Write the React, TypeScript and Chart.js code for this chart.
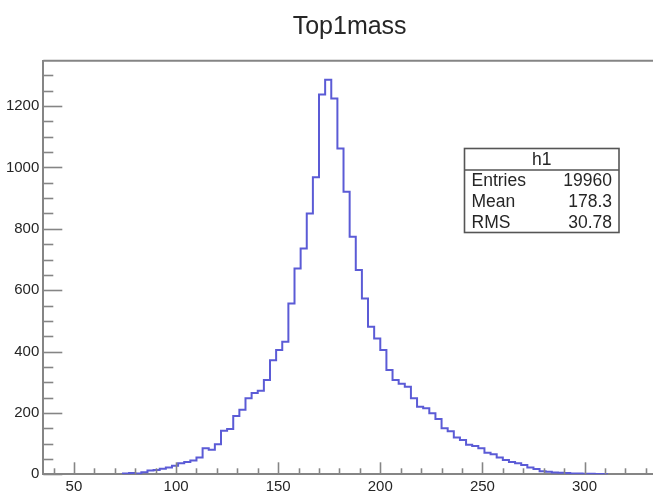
import { useEffect, useRef } from 'react';
import { Chart, registerables } from 'chart.js';

Chart.register(...registerables);

// ---- data ----
const histTitle = 'Top1mass';
const binStart = 35;
const binWidth = 3;
// 100 bins of width 3 from 35 to 335
const counts = [
  0, 0, 0, 0, 0, 0, 0, 0, 0, 0, 0, 0, 0,
  3, 4, 3, 7, 12, 14, 18, 22, 28, 36, 40, 45, 55,
  85, 80, 98, 142, 148, 190, 210, 248, 265, 272, 307, 372, 405, 432,
  557, 671, 736, 850, 968, 1238, 1286, 1225, 1062, 921, 774, 666, 573,
  481, 443, 405, 340, 307, 295, 285, 248, 220, 215, 199, 180, 150, 140,
  120, 112, 96, 92, 85, 70, 65, 55, 47, 40, 36, 30, 22, 17, 10, 8, 6,
  5, 4, 3, 3, 2, 2, 1, 1,
  0, 0, 0, 0, 0, 0, 0, 0,
];
const xMin = 35;
const xMax = 335;
const yMin = 0;
const yMax = 1348;
const xMajorTicks = [50, 100, 150, 200, 250, 300];
const yMajorTicks = [0, 200, 400, 600, 800, 1000, 1200];
const xMinorStep = 10;
const yMinorStep = 50;
const statsName = 'h1';
const statsLabels = ['Entries', 'Mean', 'RMS'];
const statsValues = ['19960', '178.3', '30.78'];

// ---- styles ----
const FONT = '"Liberation Sans", Arial, Helvetica, sans-serif';
const AXIS_COLOR = '#858585';
const TEXT_COLOR = '#262626';
const LINE_COLOR = '#5b5bd6';

function buildPoints() {
  const first = counts.findIndex((c) => c > 0);
  let last = counts.length - 1;
  while (last > 0 && counts[last] === 0) last--;
  const pts: { x: number; y: number }[] = [];
  pts.push({ x: binStart + first * binWidth, y: 0 });
  for (let i = first; i <= last; i++) {
    pts.push({ x: binStart + i * binWidth, y: counts[i] });
  }
  const endEdge = binStart + (last + 1) * binWidth;
  pts.push({ x: endEdge, y: counts[last] });
  pts.push({ x: endEdge, y: 0 });
  return pts;
}

const rootFrame = {
  id: 'rootFrame',
  afterDatasetsDraw(chart: any) {
    const { ctx, chartArea: a, scales } = chart;
    const x = scales.x;
    const y = scales.y;
    const line = (x1: number, y1: number, x2: number, y2: number) => {
      ctx.beginPath();
      ctx.moveTo(x1, y1);
      ctx.lineTo(x2, y2);
      ctx.stroke();
    };
    ctx.save();
    ctx.strokeStyle = AXIS_COLOR;
    ctx.lineWidth = 2;
    // top frame
    line(a.left, a.top, a.right + 5, a.top);
    // y ticks (inward)
    ctx.lineWidth = 1.6;
    for (let v = yMin; v <= yMax; v += yMinorStep) {
      const py = Math.round(y.getPixelForValue(v)) + 0.5;
      const major = yMajorTicks.includes(v);
      line(a.left, py, a.left + (major ? 19 : 10), py);
    }
    // x ticks (inward)
    for (let v = Math.ceil(xMin / xMinorStep) * xMinorStep; v <= xMax; v += xMinorStep) {
      const px = Math.round(x.getPixelForValue(v)) + 0.5;
      const major = xMajorTicks.includes(v);
      line(px, a.bottom, px, a.bottom - (major ? 12 : 6));
    }

    // stats box
    const bx = 464.5, by = 148.5, bw = 154.5, bh = 84;
    const headH = 21.5;
    ctx.fillStyle = '#ffffff';
    ctx.fillRect(bx, by, bw, bh);
    ctx.strokeStyle = '#555555';
    ctx.lineWidth = 1.6;
    ctx.strokeRect(bx, by, bw, bh);
    line(bx, by + headH, bx + bw, by + headH);
    ctx.fillStyle = TEXT_COLOR;
    ctx.font = `17.5px ${FONT}`;
    ctx.textBaseline = 'middle';
    ctx.textAlign = 'center';
    ctx.fillText(statsName, bx + bw / 2, by + headH / 2 + 1);
    const rowH = (bh - headH) / statsLabels.length;
    statsLabels.forEach((lab, i) => {
      const cy = by + headH + rowH * (i + 0.5) + 1;
      ctx.textAlign = 'left';
      ctx.fillText(lab, bx + 7, cy);
      ctx.textAlign = 'right';
      ctx.fillText(statsValues[i], bx + bw - 7, cy);
    });
    ctx.restore();
  },
};

export default function App() {
  const canvasRef = useRef<HTMLCanvasElement | null>(null);

  useEffect(() => {
    document.body.style.margin = '0';
    document.body.style.overflow = 'hidden';
    const canvas = canvasRef.current;
    if (!canvas) return;
    const chart = new Chart(canvas, {
      type: 'line',
      data: {
        datasets: [
          {
            label: histTitle,
            data: buildPoints(),
            stepped: 'before',
            borderColor: LINE_COLOR,
            borderWidth: 2,
            pointRadius: 0,
            fill: false,
          },
        ],
      },
      options: {
        animation: false,
        responsive: false,
        maintainAspectRatio: false,
        devicePixelRatio: 1,
        layout: { padding: { left: 0, right: 0, top: 0, bottom: 0 } },
        plugins: {
          legend: { display: false },
          tooltip: { enabled: false },
          title: {
            display: true,
            text: histTitle,
            color: TEXT_COLOR,
            fullSize: false,
            font: { family: FONT, size: 25, weight: 'normal', lineHeight: 1.2 },
            padding: { top: 12, bottom: 18.7 },
          },
        },
        scales: {
          x: {
            type: 'linear',
            min: xMin,
            max: xMax,
            grid: { display: false, drawTicks: false },
            border: { display: true, color: AXIS_COLOR, width: 2 },
            afterBuildTicks: (s: any) => {
              s.ticks = xMajorTicks.map((v) => ({ value: v }));
            },
            afterFit: (s: any) => {
              s.height = 20.7;
            },
            ticks: {
              autoSkip: false,
              maxRotation: 0,
              padding: 4,
              color: TEXT_COLOR,
              font: { family: FONT, size: 15 },
              callback: (v: any) => String(v),
            },
          },
          y: {
            type: 'linear',
            min: yMin,
            max: yMax,
            grid: { display: false, drawTicks: false },
            border: { display: true, color: AXIS_COLOR, width: 2 },
            afterBuildTicks: (s: any) => {
              s.ticks = yMajorTicks.map((v) => ({ value: v }));
            },
            afterFit: (s: any) => {
              s.width = 43.3;
            },
            ticks: {
              autoSkip: false,
              padding: 4,
              color: TEXT_COLOR,
              font: { family: FONT, size: 15 },
              callback: (v: any) => String(v),
            },
          },
        },
      },
      plugins: [rootFrame],
    } as any);
    return () => chart.destroy();
  }, []);

  return (
    <div style={{ position: 'relative', width: '653px', height: '495px', overflow: 'hidden', background: '#fff' }}>
      <canvas ref={canvasRef} width={656} height={495} style={{ display: 'block', width: '656px', height: '495px' }} />
    </div>
  );
}
